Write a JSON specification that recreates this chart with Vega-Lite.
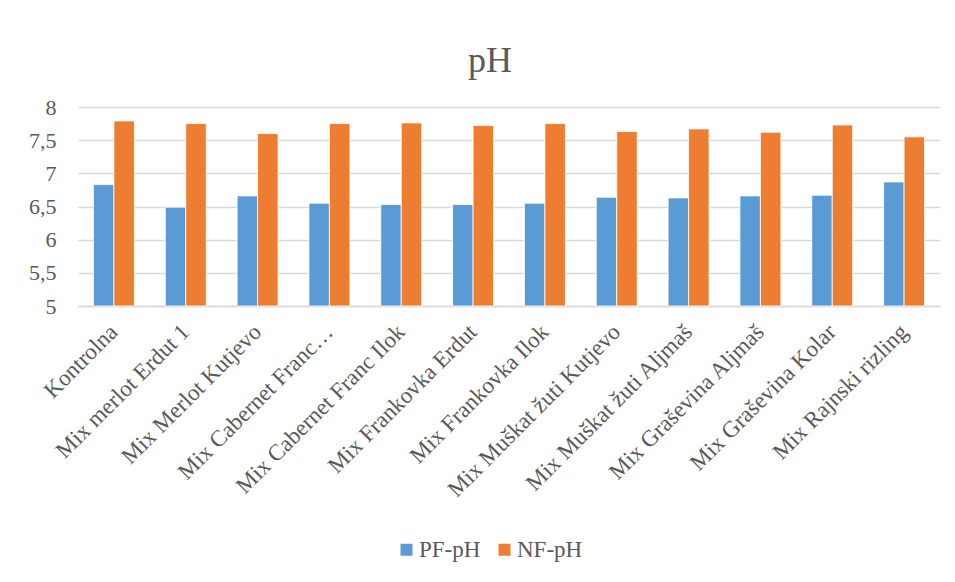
{
  "$schema": "https://vega.github.io/schema/vega-lite/v6.json",
  "width": 862,
  "height": 199,
  "autosize": {"type": "none"},
  "padding": {"left": 78, "top": 107, "right": 15, "bottom": 276},
  "background": "white",
  "title": {"text": "pH", "font": "Liberation Serif", "fontSize": 36, "fontWeight": "normal", "color": "#595959", "anchor": "middle", "offset": 16, "dx": -19},
  "data": {"values": [
    {"c": "Kontrolna", "s": "PF-pH", "v": 6.83},
    {"c": "Kontrolna", "s": "NF-pH", "v": 7.79},
    {"c": "Mix merlot Erdut 1", "s": "PF-pH", "v": 6.49},
    {"c": "Mix merlot Erdut 1", "s": "NF-pH", "v": 7.75},
    {"c": "Mix Merlot Kutjevo", "s": "PF-pH", "v": 6.66},
    {"c": "Mix Merlot Kutjevo", "s": "NF-pH", "v": 7.6},
    {"c": "Mix Cabernet Franc…", "s": "PF-pH", "v": 6.55},
    {"c": "Mix Cabernet Franc…", "s": "NF-pH", "v": 7.75},
    {"c": "Mix Cabernet Franc Ilok", "s": "PF-pH", "v": 6.53},
    {"c": "Mix Cabernet Franc Ilok", "s": "NF-pH", "v": 7.76},
    {"c": "Mix Frankovka Erdut", "s": "PF-pH", "v": 6.53},
    {"c": "Mix Frankovka Erdut", "s": "NF-pH", "v": 7.72},
    {"c": "Mix Frankovka Ilok", "s": "PF-pH", "v": 6.55},
    {"c": "Mix Frankovka Ilok", "s": "NF-pH", "v": 7.75},
    {"c": "Mix Muškat žuti Kutjevo", "s": "PF-pH", "v": 6.64},
    {"c": "Mix Muškat žuti Kutjevo", "s": "NF-pH", "v": 7.63},
    {"c": "Mix Muškat žuti Aljmaš", "s": "PF-pH", "v": 6.63},
    {"c": "Mix Muškat žuti Aljmaš", "s": "NF-pH", "v": 7.67},
    {"c": "Mix Graševina Aljmaš", "s": "PF-pH", "v": 6.66},
    {"c": "Mix Graševina Aljmaš", "s": "NF-pH", "v": 7.62},
    {"c": "Mix Graševina Kolar", "s": "PF-pH", "v": 6.67},
    {"c": "Mix Graševina Kolar", "s": "NF-pH", "v": 7.73},
    {"c": "Mix Rajnski rizling", "s": "PF-pH", "v": 6.87},
    {"c": "Mix Rajnski rizling", "s": "NF-pH", "v": 7.55}
  ]},
  "mark": {"type": "bar", "stroke": "white", "strokeWidth": 0.8},
  "encoding": {
    "x": {"field": "c", "type": "nominal", "sort": null, "title": null,
      "scale": {"paddingInner": 0.43, "paddingOuter": 0.215},
      "axis": {"labelAngle": -45, "labelAlign": "right", "labelBaseline": "middle", "labelFont": "Liberation Serif", "labelFontSize": 23, "labelColor": "#595959", "labelPadding": 22, "ticks": false, "domainColor": "#d9d9d9", "domainWidth": 1.3, "labelLimit": 400, "labelOverlap": false}},
    "xOffset": {"field": "s", "type": "nominal", "sort": ["PF-pH", "NF-pH"], "scale": {"paddingInner": 0}},
    "y": {"field": "v", "type": "quantitative", "title": null,
      "scale": {"domain": [5, 8], "zero": false, "nice": false},
      "axis": {"values": [5, 5.5, 6, 6.5, 7, 7.5, 8], "labelExpr": "replace(format(datum.value, '.1~f'), '.', ',')", "labelFont": "Liberation Serif", "labelFontSize": 22, "labelColor": "#595959", "labelPadding": 22, "domain": false, "ticks": false, "gridColor": "#d9d9d9", "gridWidth": 1.3}},
    "y2": {"datum": 5},
    "color": {"field": "s", "type": "nominal", "sort": ["PF-pH", "NF-pH"], "title": null,
      "scale": {"domain": ["PF-pH", "NF-pH"], "range": ["#5B9BD5", "#ED7D31"]},
      "legend": {"orient": "none", "legendX": 317, "legendY": 431, "direction": "horizontal", "symbolType": "square", "symbolSize": 144, "symbolStrokeWidth": 0, "labelFont": "Liberation Serif", "labelFontSize": 23, "labelColor": "#595959", "labelOffset": 1, "columnPadding": 12, "symbolOffset": 0}}
  },
  "config": {"view": {"stroke": null}}
}
